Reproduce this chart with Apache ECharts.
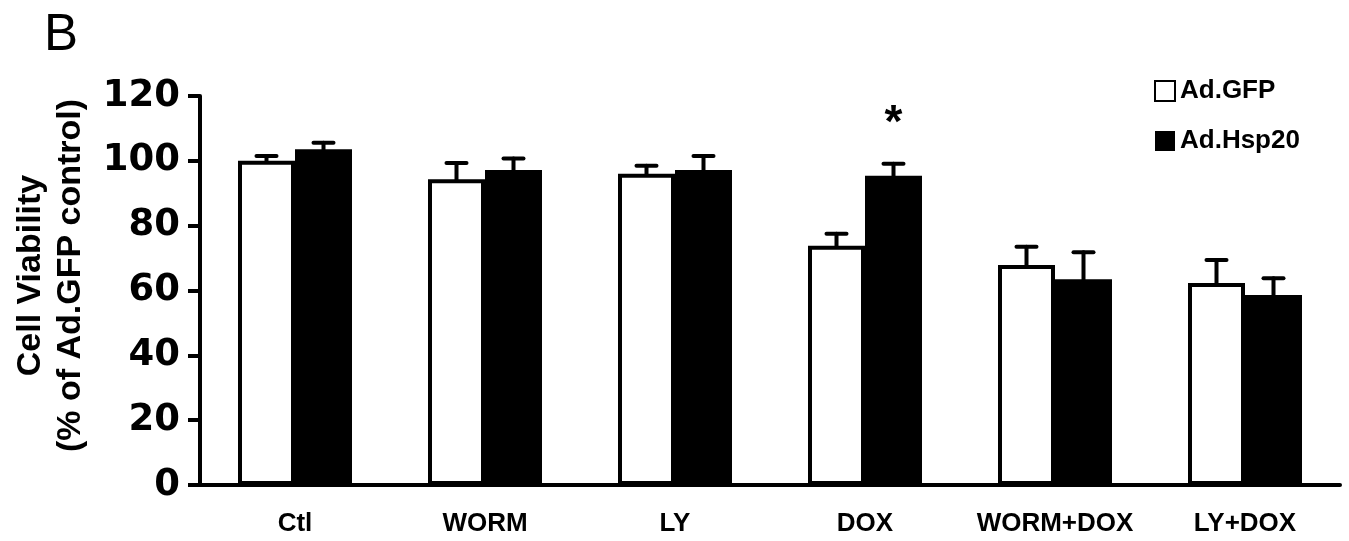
<!DOCTYPE html>
<html>
<head>
<meta charset="utf-8">
<script src="https://cdn.jsdelivr.net/npm/echarts@6/dist/echarts.min.js"></script>
<style>
  html, body { margin: 0; padding: 0; background: #fff; }
  #chart { width: 1349px; height: 541px; }
</style>
</head>
<body>
<div id="chart"></div>
<script>
const categories = ["Ctl", "WORM", "LY", "DOX", "WORM+DOX", "LY+DOX"];
const gfpMean = [100, 94.3, 96.0, 73.8, 67.9, 62.3];
const gfpUpper = [101.5, 99.3, 98.5, 77.5, 73.5, 69.4];
const hspMean = [103.6, 97.2, 97.2, 95.4, 63.5, 58.6];
const hspUpper = [105.6, 100.7, 101.5, 99.1, 71.8, 63.8];
const sigMarks = ["", "", "", "*", "", ""];

const barW = 57;
const font = "'Liberation Sans', Arial, sans-serif";

// upward-only error bar, shifted onto its bar within the category
function errorBar(side, marks) {
  return function (params, api) {
    const i = api.value(0);
    const base = api.coord([i, api.value(1)]);
    const top = api.coord([i, api.value(2)]);
    const x = base[0] + side * barW / 2;
    const style = { stroke: "#000", lineWidth: 4, lineCap: "round" };
    const children = [
      { type: "line", shape: { x1: x, y1: base[1], x2: x, y2: top[1] }, style },
      { type: "line", shape: { x1: x - 10, y1: top[1], x2: x + 10, y2: top[1] }, style },
    ];
    if (marks && marks[i]) {
      children.push({
        type: "text",
        style: {
          text: marks[i], x: x, y: top[1] - 16,
          align: "center", verticalAlign: "bottom",
          font: "bold 46px " + font, fill: "#000",
        },
      });
    }
    return { type: "group", children };
  };
}

const chart = echarts.init(document.getElementById("chart"));
chart.setOption({
  animation: false,
  backgroundColor: "#fff",
  graphic: [{
    type: "text", left: 44, top: 10,
    style: { text: "B", font: "51px " + font, fill: "#000" },
  }],
  legend: {
    data: ["Ad.GFP", "Ad.Hsp20"],
    orient: "vertical",
    left: 1149, top: 73,
    icon: "rect",
    itemWidth: 20, itemHeight: 20, itemGap: 24,
    textStyle: { fontFamily: font, fontWeight: "bold", fontSize: 26, color: "#000" },
  },
  grid: { left: 200, right: 9, top: 96, bottom: 56, outerBoundsMode: "none" },
  xAxis: {
    type: "category",
    data: categories,
    axisLine: { lineStyle: { color: "#000", width: 4 } },
    axisTick: { show: false },
    axisLabel: {
      color: "#000", fontFamily: font, fontWeight: "bold", fontSize: 26, margin: 26,
      interval: 0,
    },
  },
  yAxis: {
    type: "value",
    min: 0, max: 120, interval: 20,
    name: "Cell Viability\n(% of Ad.GFP control)",
    nameLocation: "middle",
    nameRotate: 90,
    nameGap: 109,
    nameTextStyle: {
      color: "#000", fontFamily: font, fontWeight: "bold", fontSize: 34, lineHeight: 40,
      padding: [0, 0, 0, 30],
    },
    splitLine: { show: false },
    axisLine: { show: true, lineStyle: { color: "#000", width: 4 } },
    axisTick: { show: true, length: 12, lineStyle: { color: "#000", width: 4 } },
    axisLabel: { color: "#000", fontFamily: "'DejaVu Sans', sans-serif", fontWeight: "bold", fontSize: 37, margin: 20 },
  },
  series: [
    {
      name: "Ad.GFP", type: "bar", data: gfpMean,
      barWidth: barW, barGap: "0%",
      itemStyle: { color: "#fff", borderColor: "#000", borderWidth: 4 },
    },
    {
      name: "Ad.Hsp20", type: "bar", data: hspMean,
      barWidth: barW, barGap: "0%",
      itemStyle: { color: "#000", borderColor: "#000", borderWidth: 0 },
    },
    {
      type: "custom", z: 1,
      renderItem: errorBar(-1),
      encode: { x: 0, y: 2 },
      data: gfpMean.map((m, i) => [i, m, gfpUpper[i]]),
    },
    {
      type: "custom", z: 1,
      renderItem: errorBar(1, sigMarks),
      encode: { x: 0, y: 2 },
      data: hspMean.map((m, i) => [i, m, hspUpper[i]]),
    },
  ],
});
</script>
</body>
</html>
